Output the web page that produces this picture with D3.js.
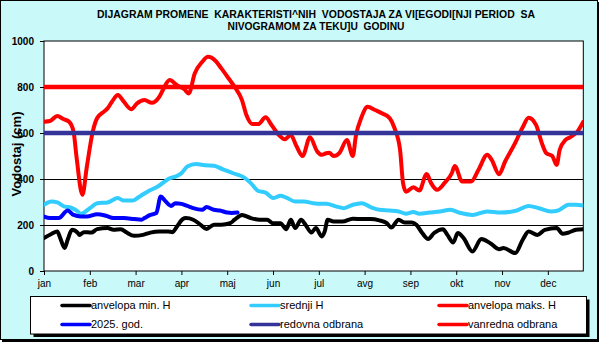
<!DOCTYPE html>
<html><head><meta charset="utf-8">
<script src="https://cdn.jsdelivr.net/npm/d3@7"></script>
<style>html,body{margin:0;padding:0;background:#fff;}svg{display:block;}</style>
</head><body>
<script>
const months = ["jan","feb","mar","apr","maj","jun","jul","avg","sep","okt","nov","dec"];
const yTicks = [0,200,400,600,800,1000];
const titleLines = ["DIJAGRAM PROMENE  KARAKTERISTI^NIH  VODOSTAJA ZA VI[EGODI[NJI PERIOD  SA","NIVOGRAMOM ZA TEKU]U  GODINU"];
const yTitle = "Vodostaj (cm)";
const redovnaOdbrana = 600;
const vanrednaOdbrana = 800;
const anvelopaMaks = [[0,649],[4,652],[9,674],[13,661],[17,649],[20,606],[22,497],[26,331],[29,454],[33,606],[36,665],[41,695],[43,707],[46,736],[50,765],[54,736],[59,703],[63,729],[68,743],[73,731],[78,757],[81,794],[85,830],[90,808],[95,790],[98,772],[102,859],[107,909],[111,931],[116,914],[120,881],[125,837],[129,801],[134,743],[137,678],[141,639],[145,639],[150,668],[154,635],[159,591],[163,573],[167,591],[171,541],[175,500],[180,581],[185,519],[188,505],[191,512],[193,514],[196,500],[200,514],[205,570],[209,500],[211,584],[215,671],[219,714],[224,700],[229,685],[234,664],[237,625],[241,526],[243,382],[245,345],[250,364],[254,350],[259,422],[262,382],[266,353],[271,382],[276,425],[278,457],[283,389],[289,389],[294,439],[300,505],[303,483],[308,421],[312,475],[319,558],[324,625],[328,666],[333,635],[337,555],[340,512],[344,500],[347,461],[349,526],[353,570],[356,581],[361,606],[365,649]];
const srednjiH = [[0,288],[5,302],[9,298],[14,280],[18,276],[22,263],[25,249],[31,273],[36,295],[43,298],[50,317],[54,306],[60,306],[64,321],[70,345],[77,367],[85,403],[89,410],[93,425],[97,454],[103,465],[109,460],[115,458],[121,442],[128,425],[135,408],[140,382],[145,348],[150,341],[155,317],[160,327],[164,319],[170,302],[176,302],[182,295],[187,292],[191,292],[198,280],[203,273],[209,288],[215,295],[221,278],[227,266],[234,263],[240,259],[245,249],[250,256],[254,249],[261,254],[268,259],[275,266],[282,252],[290,244],[300,259],[309,254],[320,263],[328,283],[335,273],[343,259],[348,263],[355,288],[360,288],[365,285]];
const god2025 = [[0,237],[4,230],[10,230],[16,263],[20,244],[25,237],[29,237],[36,247],[42,240],[47,230],[54,230],[61,226],[66,223],[68,230],[72,244],[76,252],[79,324],[82,305],[86,283],[89,295],[93,292],[97,283],[101,273],[107,266],[110,278],[115,266],[119,263],[124,254],[127,252],[131,254]];
const anvelopaMin = [[0,143],[5,161],[9,172],[11,143],[14,100],[16,136],[19,179],[23,165],[24,157],[27,169],[32,167],[36,182],[43,187],[47,179],[52,182],[56,167],[61,153],[67,157],[72,167],[78,172],[84,172],[87,169],[90,193],[94,226],[96,230],[101,223],[106,201],[110,183],[115,201],[120,201],[126,208],[129,223],[134,244],[140,230],[146,223],[151,223],[155,208],[160,208],[164,182],[167,223],[170,187],[174,223],[177,201],[181,167],[184,187],[188,150],[190,172],[192,223],[196,215],[202,215],[209,227],[216,226],[221,226],[227,220],[232,208],[235,189],[240,223],[244,211],[249,211],[252,201],[256,165],[260,139],[264,165],[270,182],[273,157],[277,124],[280,165],[284,143],[290,85],[296,139],[302,121],[308,95],[311,100],[319,78],[324,136],[328,172],[334,157],[339,179],[347,187],[351,162],[355,167],[360,179],[365,182]];
const legendItems = [
  {name:"anvelopa min. H", color:"#000000"},
  {name:"srednji H", color:"#33CCFF"},
  {name:"anvelopa maks. H", color:"#FF0000"},
  {name:"2025. god.", color:"#0000FF"},
  {name:"redovna odbrana", color:"#333399"},
  {name:"vanredna odbrana", color:"#FF0000"}
];

const W = 600, H = 343;
const FONT = "'Liberation Sans', Arial, sans-serif";
const svg = d3.select("body").append("svg").attr("width", W).attr("height", H);

// background
svg.append("rect").attr("x",0).attr("y",0).attr("width",W).attr("height",H).attr("fill","#ffffff");
svg.append("rect").attr("x",2).attr("y",2).attr("width",597).attr("height",340).attr("fill","#000");
svg.append("rect").attr("x",0.5).attr("y",0.5).attr("width",597).attr("height",339)
  .attr("fill","#c9f9f9").attr("stroke","#000").attr("stroke-width",1);

const plot = {l:44, r:583.3, t:41, b:271};
const x = d3.scaleLinear().domain([0,365]).range([plot.l, plot.r]);
const y = d3.scaleLinear().domain([0,1000]).range([plot.b, plot.t]);

svg.append("rect").attr("x",plot.l).attr("y",plot.t).attr("width",plot.r-plot.l).attr("height",plot.b-plot.t)
  .attr("fill","#fff");

// gridlines
svg.append("g").selectAll("line").data(yTicks.filter(d=>d>0 && d<1000)).join("line")
  .attr("x1",plot.l).attr("x2",plot.r).attr("y1",d=>y(d)).attr("y2",d=>y(d))
  .attr("stroke","#000").attr("stroke-width",1).attr("shape-rendering","crispEdges");

// axes
const yAxis = d3.axisLeft(y).tickValues(yTicks).tickSize(4).tickFormat(d3.format("d"));
const gy = svg.append("g").attr("transform",`translate(${plot.l},0)`).call(yAxis);
gy.select(".domain").remove();
gy.selectAll("line").attr("stroke","#000");
gy.selectAll("text").attr("font-family",FONT).attr("font-size","10px").attr("font-weight","bold").attr("fill","#000").attr("x",-10);

const monthTicks = months.map((m,i)=>i*31);
const xAxis = d3.axisBottom(x).tickValues(monthTicks).tickSize(4).tickFormat((d,i)=>months[i]);
const gx = svg.append("g").attr("transform",`translate(0,${plot.b})`).call(xAxis);
gx.select(".domain").remove();
gx.selectAll("line").attr("stroke","#000");
gx.selectAll("text").attr("font-family",FONT).attr("font-size","10px").attr("fill","#000").attr("y",9);

// plot frame
svg.append("rect").attr("x",plot.l).attr("y",plot.t).attr("width",plot.r-plot.l).attr("height",plot.b-plot.t)
  .attr("fill","none").attr("stroke","#000").attr("stroke-width",1);

const clip = svg.append("clipPath").attr("id","pc").append("rect")
  .attr("x",plot.l).attr("y",plot.t).attr("width",plot.r-plot.l).attr("height",plot.b-plot.t);

const line = d3.line().x(d=>x(d[0])).y(d=>y(d[1])).curve(d3.curveMonotoneX);
const g = svg.append("g").attr("clip-path","url(#pc)");
const series = [
  {data:anvelopaMin, color:"#000000"},
  {data:srednjiH, color:"#33CCFF"},
  {data:anvelopaMaks, color:"#FF0000"},
  {data:god2025, color:"#0000FF"}
];
series.forEach(s=>{
  g.append("path").attr("d",line(s.data)).attr("fill","none").attr("stroke",s.color)
    .attr("stroke-width",4).attr("stroke-linejoin","round").attr("stroke-linecap","round");
});
g.append("line").attr("x1",plot.l).attr("x2",plot.r).attr("y1",y(redovnaOdbrana)).attr("y2",y(redovnaOdbrana))
  .attr("stroke","#333399").attr("stroke-width",4.5);
g.append("line").attr("x1",plot.l).attr("x2",plot.r).attr("y1",y(vanrednaOdbrana)).attr("y2",y(vanrednaOdbrana))
  .attr("stroke","#FF0000").attr("stroke-width",4.5);

// title
titleLines.forEach((t,i)=>{
  svg.append("text").attr("x",316).attr("y",i===0?17.5:29.5).attr("text-anchor","middle")
    .attr("font-family",FONT).attr("font-size","10px").attr("font-weight","bold")
    .style("white-space","pre").attr("textLength", i===0?438:177).attr("lengthAdjust","spacingAndGlyphs")
    .text(t);
});

// y title
svg.append("text").attr("transform","translate(21,154) rotate(-90)").attr("text-anchor","middle")
  .attr("font-family",FONT).attr("font-size","13px").attr("font-weight","bold").text(yTitle);

// legend
const lg = {x:30.5, y:296.5, w:556, h:37.5};
svg.append("rect").attr("x",lg.x+3).attr("y",lg.y+3).attr("width",lg.w).attr("height",lg.h).attr("fill","#000");
svg.append("rect").attr("x",lg.x).attr("y",lg.y).attr("width",lg.w).attr("height",lg.h)
  .attr("fill","#fff").attr("stroke","#000").attr("stroke-width",1);
const colX = [62, 251, 439];
const rowY = [305.5, 324.5];
legendItems.forEach((it,i)=>{
  const cx = colX[i%3], cy = rowY[Math.floor(i/3)];
  svg.append("line").attr("x1",cx).attr("x2",cx+28).attr("y1",cy).attr("y2",cy)
    .attr("stroke",it.color).attr("stroke-width",3.5).attr("stroke-linecap","round");
  svg.append("text").attr("x",cx+29).attr("y",cy).attr("dy","0.36em")
    .attr("font-family",FONT).attr("font-size","11px").attr("fill","#000").text(it.name);
});
</script>
</body></html>
